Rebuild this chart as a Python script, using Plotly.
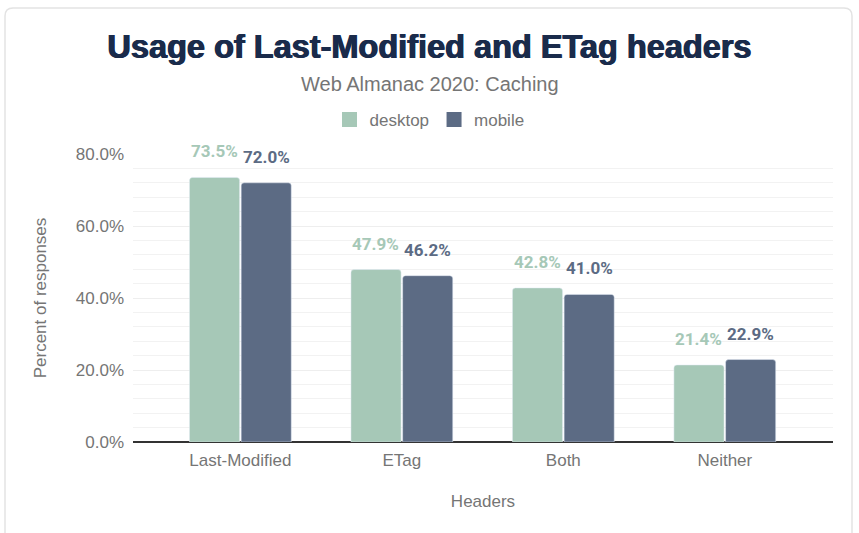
import plotly.graph_objects as go

categories = ["Last-Modified", "ETag", "Both", "Neither"]
desktop = [73.5, 47.9, 42.8, 21.4]
mobile = [72.0, 46.2, 41.0, 22.9]
tick_vals = [0, 20, 40, 60, 80]
tick_text = ["0.0%", "20.0%", "40.0%", "60.0%", "80.0%"]

DESK = "#a6c8b7"
MOB = "#5c6b84"
GREY = "#757575"
FONT = "Liberation Sans, Arial, sans-serif"

W, H = 859, 533
# target screen positions of the plot area
PL, PR, PT, PB = 133, 833, 154, 442
ML, MT, MR, MB = PL, PT, W - PR, H - PB
plot_h = PB - PT
plot_w = PR - PL


def py(screen_y):
    return (PB - screen_y) / plot_h


def px(screen_x):
    return (screen_x - PL) / plot_w


def cy(screen_y):
    return 1 - screen_y / H


fig = go.Figure()
fig.add_trace(go.Bar(name="desktop", x=categories, y=desktop, marker=dict(color=DESK, cornerradius=3),
                     showlegend=False))
fig.add_trace(go.Bar(name="mobile", x=categories, y=mobile, marker=dict(color=MOB, cornerradius=3),
                     showlegend=False))
# legend entries
fig.add_trace(go.Scatter(name="desktop", x=[None], y=[None], mode="markers",
                         marker=dict(symbol="square", size=15, color=DESK)))
fig.add_trace(go.Scatter(name="mobile", x=[None], y=[None], mode="markers",
                         marker=dict(symbol="square", size=15, color=MOB)))

annotations = [dict(text="Web Almanac 2020: Caching", x=px(W / 2), xref="paper",
                    y=py(84), yref="paper", yanchor="middle", xanchor="center",
                    showarrow=False, font=dict(size=20, color=GREY))]
for cat, v in zip(categories, desktop):
    annotations.append(dict(x=cat, y=v, xref="x", yref="y", text=f"{v:.1f}%", showarrow=False,
                            xshift=-26, yshift=26, yanchor="middle",
                            font=dict(family="Roboto", size=17, color=DESK, weight="bold")))
for cat, v in zip(categories, mobile):
    annotations.append(dict(x=cat, y=v, xref="x", yref="y", text=f"{v:.1f}%", showarrow=False,
                            xshift=26, yshift=26, yanchor="middle",
                            font=dict(family="Roboto", size=17, color=MOB, weight="bold")))

fig.update_layout(
    width=W, height=H,
    margin=dict(l=ML, r=MR, t=MT, b=MB, autoexpand=False),
    paper_bgcolor="white", plot_bgcolor="white",
    font=dict(family=FONT, color=GREY, size=17),
    barmode="group", bargap=0.36, bargroupgap=0.03,
    title=dict(text="<b>Usage of Last-Modified and ETag headers</b>", x=0.5, xref="container",
               xanchor="center", y=cy(47), yref="container", yanchor="middle",
               font=dict(family=FONT, size=32.5, color="#1a2b4b",
                         shadow="0.6px 0 0 #1a2b4b, -0.6px 0 0 #1a2b4b")),
    legend=dict(orientation="h", x=0.5, xref="container", xanchor="center", y=cy(120),
                yref="container", yanchor="middle", font=dict(size=17, color=GREY),
                traceorder="normal"),
    showlegend=True,
    xaxis=dict(title=dict(text="Headers", font=dict(size=17, color=GREY), standoff=26),
               range=[-0.665, 3.67],
               tickfont=dict(size=17, color=GREY), showline=False, ticks="", automargin=False,
               ticklabelstandoff=6),
    yaxis=dict(title=dict(text="Percent of responses", font=dict(size=17, color=GREY), standoff=24),
               range=[0, 80], tickvals=tick_vals, ticktext=tick_text,
               tickfont=dict(size=17, color=GREY), automargin=False, ticklabelstandoff=8,
               gridcolor="#eeeeee", zeroline=True, zerolinecolor="#333333", zerolinewidth=1.5,
               minor=dict(dtick=4, showgrid=True, gridcolor="#f2f2f2"),
               ticks=""),
    annotations=annotations,
)

# card border with rounded corners
xl, xr = px(5), px(852)
yt, yb = py(8), py(580)
rx, ry = 8 / plot_w, 8 / plot_h
path = (f"M {xl+rx},{yt} L {xr-rx},{yt} Q {xr},{yt} {xr},{yt-ry} "
        f"L {xr},{yb} L {xl},{yb} L {xl},{yt-ry} Q {xl},{yt} {xl+rx},{yt} Z")
fig.add_shape(type="path", path=path, xref="paper", yref="paper",
              line=dict(color="#e3e3e3", width=1.5), layer="below")

fig.write_html("out.html", config={"displayModeBar": False},
               post_script="document.body.style.margin='0';")
